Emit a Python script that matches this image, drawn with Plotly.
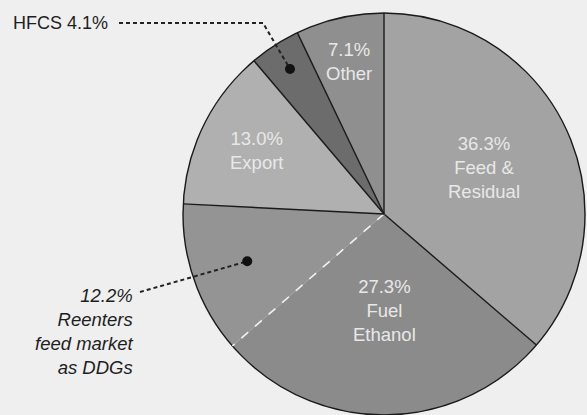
import math
import plotly.graph_objects as go

# ---- data ----
labels = ["Feed & Residual", "Fuel Ethanol", "Reenters feed market as DDGs", "Export", "HFCS", "Other"]
values = [36.3, 27.3, 12.2, 13.0, 4.1, 7.1]
inside_text = ["36.3%<br>Feed &<br>Residual", "27.3%<br>Fuel<br>Ethanol", "", "13.0%<br>Export", "", "7.1%<br>Other"]
hfcs_label = "HFCS 4.1%"
ddg_label = "<i>12.2%<br>Reenters<br>feed market<br>as DDGs</i>"

# ---- style ----
W, H = 587, 415
colors = ["#a3a3a3", "#8b8b8b", "#949494", "#b0b0b0", "#6c6c6c", "#8f8f8f"]
label_radius = [0.55, 0.48, 0.0, 0.71, 0.0, 0.78]
CX, CY, R = 384.0, 214.0, 201.0  # pixel geometry of the pie

def px(x):
    return x / W

def py(y):
    return (H - y) / H

def polar(frac_angle, rad):
    a = 2 * math.pi * frac_angle
    return CX + rad * math.sin(a), CY - rad * math.cos(a)

total = sum(values)
cum = [0.0]
for v in values:
    cum.append(cum[-1] + v)
mids = [(cum[i] + values[i] / 2) / total for i in range(len(values))]

fig = go.Figure(go.Pie(
    labels=labels, values=values, sort=False, direction="clockwise", rotation=0,
    marker=dict(colors=colors, line=dict(width=0)),
    textinfo="none", hoverinfo="skip", showlegend=False,
    domain=dict(x=[px(CX - R), px(CX + R)], y=[py(CY + R), py(CY - R)]),
))

shapes = []
# outer circle
shapes.append(dict(type="circle", xref="paper", yref="paper",
                   x0=px(CX - R), x1=px(CX + R), y0=py(CY + R), y1=py(CY - R),
                   line=dict(color="#1a1a1a", width=1.4)))
# radial boundaries
for i in range(len(values)):
    f = cum[i] / total
    x1, y1 = polar(f, R)
    if i == 2:
        line = dict(color="#f2f2f2", width=1.6, dash="dash")
    else:
        line = dict(color="#1a1a1a", width=1.4)
    shapes.append(dict(type="line", xref="paper", yref="paper",
                       x0=px(CX), y0=py(CY), x1=px(x1), y1=py(y1), line=line))

# leader dots & lines
hx, hy = polar(mids[4], 0.86 * R)
dx, dy = polar(mids[2], 0.72 * R)
lead = dict(color="#222222", width=2, dash="4px,3px")
shapes.append(dict(type="path", xref="paper", yref="paper",
                   path=f"M {px(119)} {py(23)} L {px(263)} {py(23)} L {px(hx)} {py(hy)}",
                   line=lead))
shapes.append(dict(type="line", xref="paper", yref="paper",
                   x0=px(140), y0=py(292), x1=px(dx), y1=py(dy), line=lead))
for (x, y) in [(hx, hy), (dx, dy)]:
    shapes.append(dict(type="circle", xref="paper", yref="paper",
                       x0=px(x - 5), x1=px(x + 5), y0=py(y + 5), y1=py(y - 5),
                       fillcolor="#111111", line=dict(width=0)))

annotations = []
for i, t in enumerate(inside_text):
    if not t:
        continue
    x, y = polar(mids[i], label_radius[i] * R)
    annotations.append(dict(text=t, x=px(x), y=py(y), xref="paper", yref="paper",
                            showarrow=False, align="center", xanchor="center", yanchor="middle",
                            font=dict(family="Liberation Sans, Arial, sans-serif", size=18.5, color="#e8e8e8")))
annotations.append(dict(text=hfcs_label, x=px(11), y=py(23), xref="paper", yref="paper",
                        showarrow=False, xanchor="left", yanchor="middle",
                        font=dict(family="Liberation Sans, Arial, sans-serif", size=18, color="#1e1e1e")))
annotations.append(dict(text=ddg_label, x=px(136), y=py(331), xref="paper", yref="paper",
                        showarrow=False, xanchor="right", yanchor="middle", align="right",
                        font=dict(family="Liberation Sans, Arial, sans-serif", size=18.5, color="#1e1e1e")))

fig.update_layout(
    width=W, height=H, margin=dict(l=0, r=0, t=0, b=0),
    paper_bgcolor="#efefef", plot_bgcolor="#efefef",
    shapes=shapes, annotations=annotations,
)
fig.write_html("out.html", config={"displayModeBar": False},
               post_script="document.body.style.margin='0px';document.body.style.overflow='hidden';document.body.style.background='#efefef';")
